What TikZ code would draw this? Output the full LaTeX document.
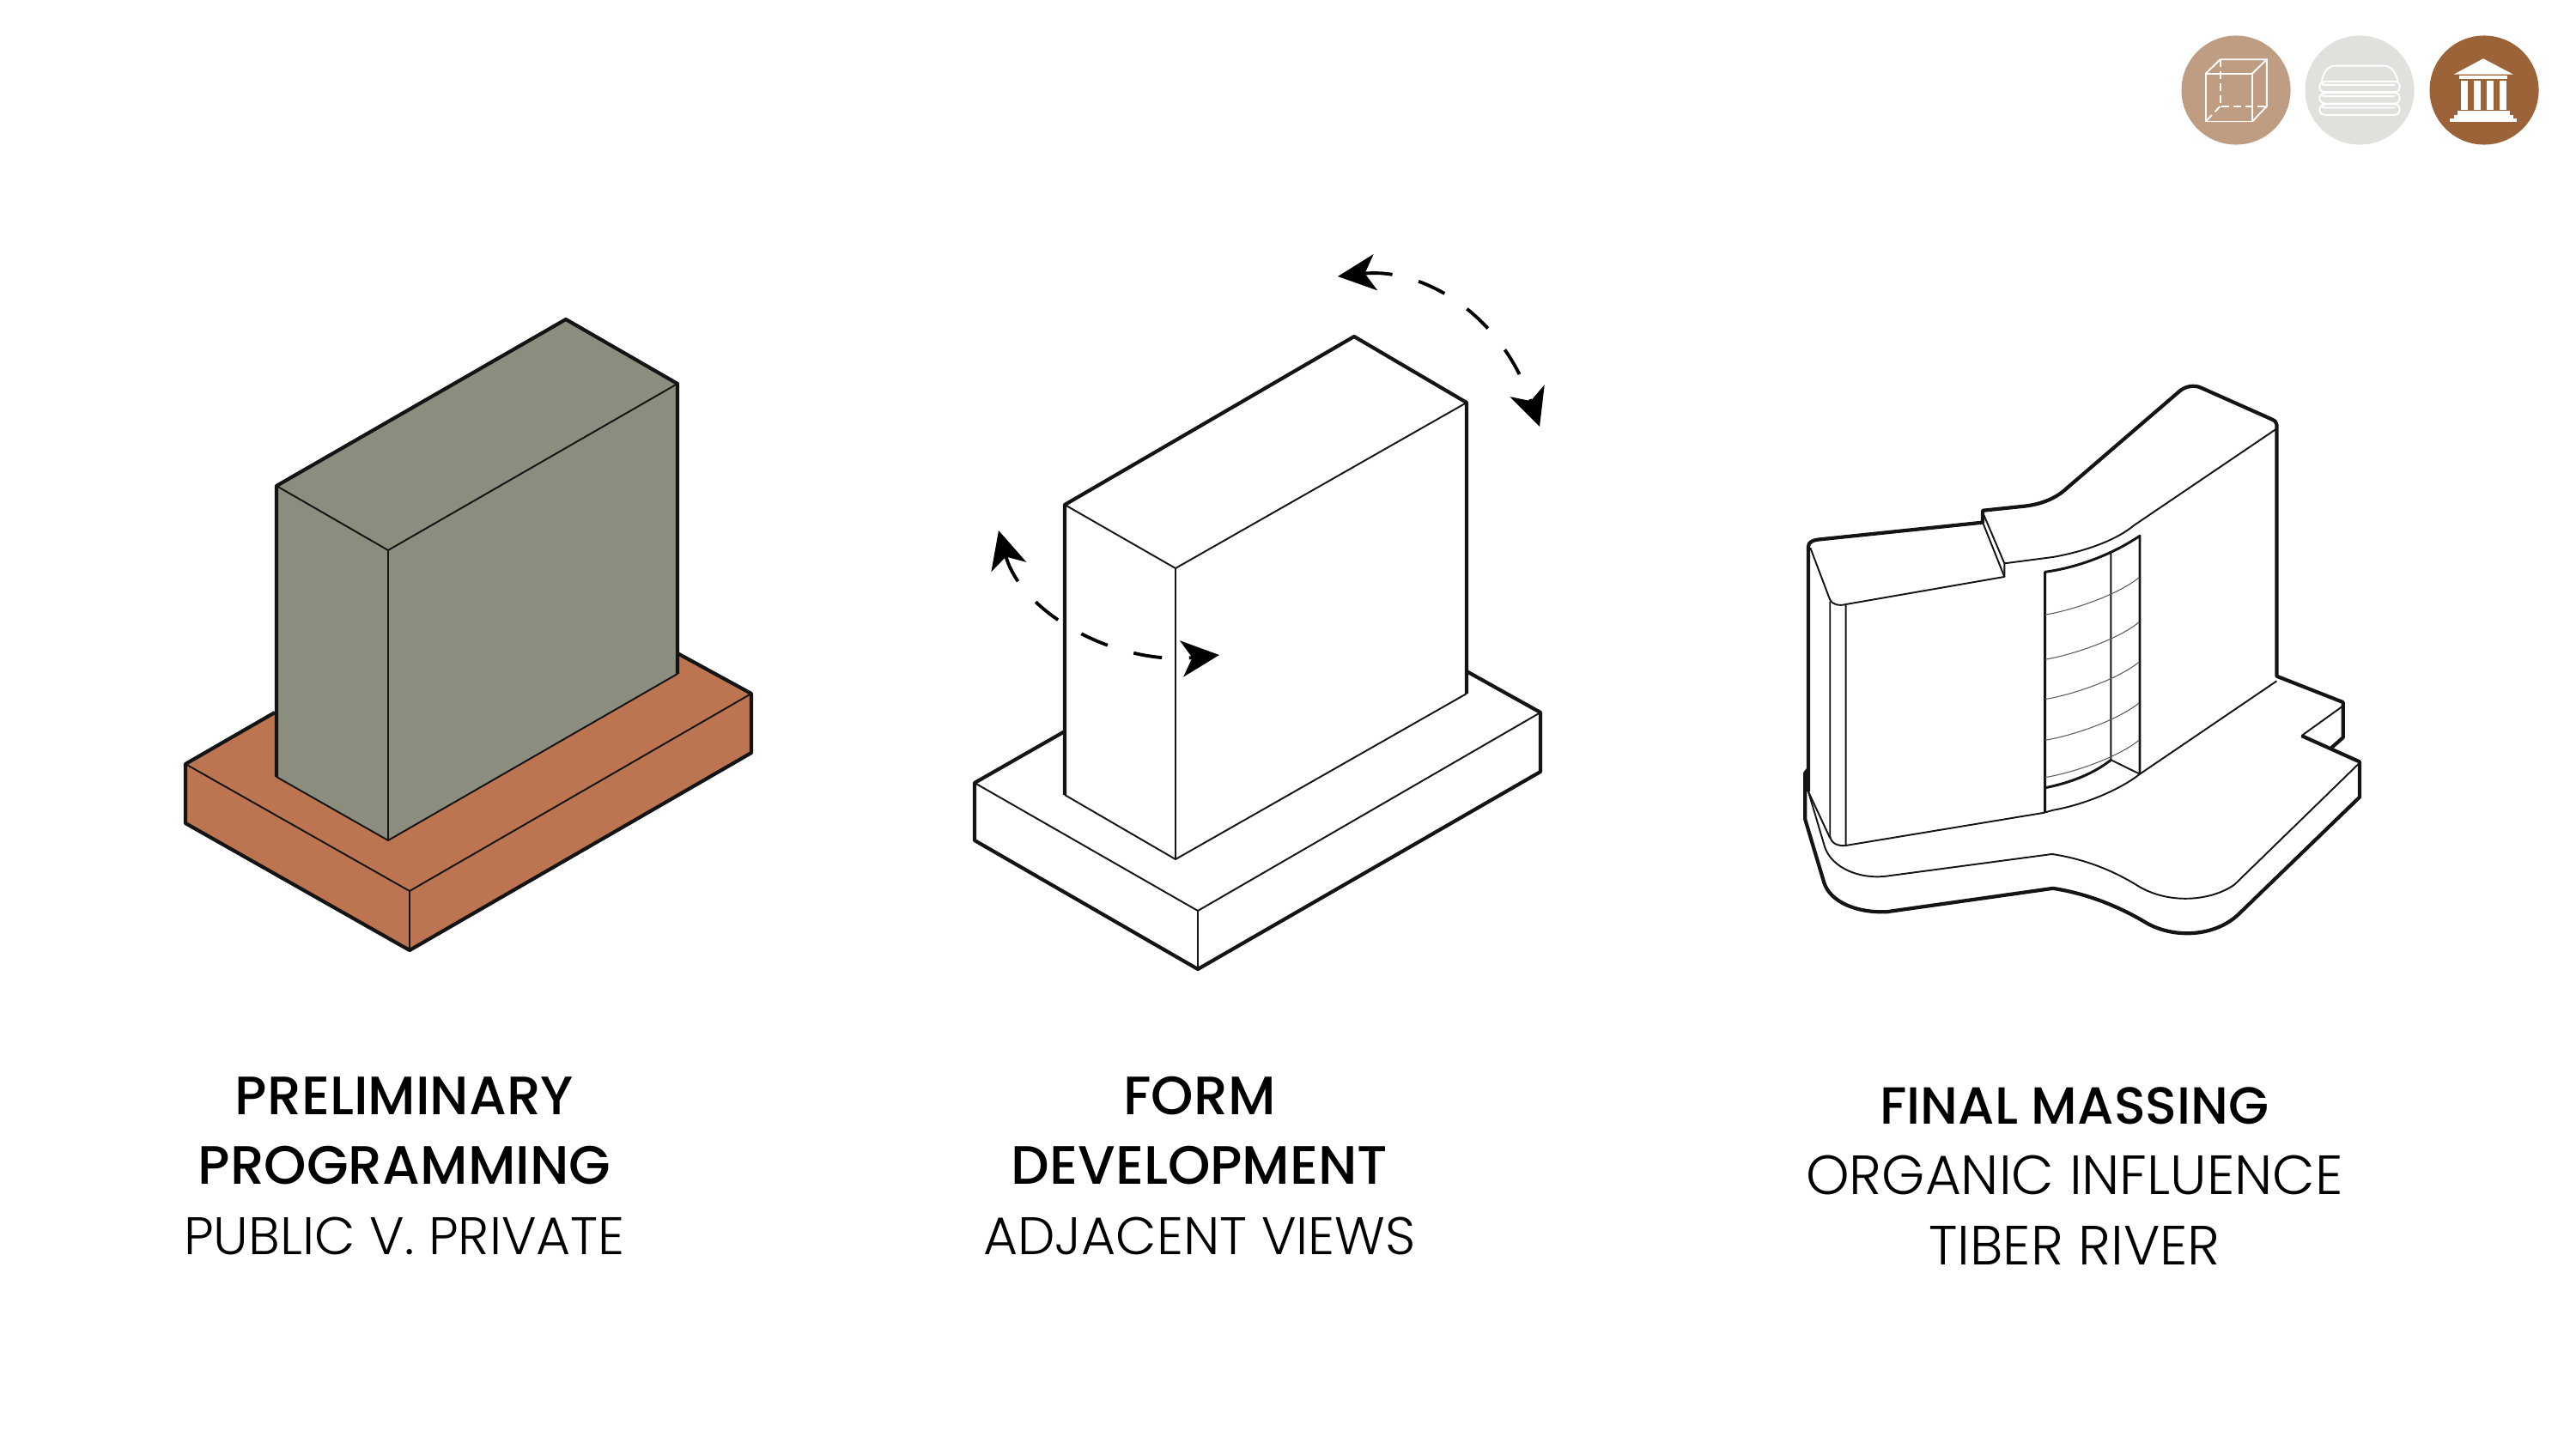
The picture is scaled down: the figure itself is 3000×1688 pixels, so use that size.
\documentclass[tikz,border=0pt]{standalone}
\usepackage{fontspec}
\setmainfont{Poppins}[UprightFont=* Light,BoldFont=* Medium]
\definecolor{MassGray}{HTML}{8B8D7F}
\definecolor{BaseClay}{HTML}{BD7551}
\definecolor{IconTan}{HTML}{BE9D82}
\definecolor{IconMist}{HTML}{E0E1DC}
\definecolor{IconBrown}{HTML}{9C6238}
\definecolor{InkBlack}{HTML}{141414}
\usetikzlibrary{arrows.meta}
\newcommand{\headsize}[1]{\fontsize{#1}{23.2}\selectfont\bfseries}
\newcommand{\subsize}[1]{\fontsize{#1}{23.2}\selectfont\mdseries}
\tikzset{
    % Outer edges of the massing
    thickedge/.style={
        draw=InkBlack,
        line width=1.2pt,
        line join=round
    },
    % Inner edges of the massing
    thinedge/.style={
        draw=InkBlack,
        line width=0.55pt,
        line join=round
    },
    % Window frame
    windowedge/.style={
        draw=InkBlack,
        line width=0.85pt,
        line join=round
    },
    % Window floor lines
    floorline/.style={
        draw=InkBlack!70,
        line width=0.3pt
    },
    % Dashed turning arrows
    turnarrow/.style={
        {Stealth[length=12.5pt,width=12pt,inset=3.5pt]}-{Stealth[length=12.5pt,width=12pt,inset=3.5pt]},
        line width=1.1pt,
        draw=black,
        dash pattern=on 9.5pt off 9pt
    },
    % Round icons top right
    iconcircle/.style={
        circle,
        minimum size=1.27cm,
        inner sep=0pt
    },
    % White icon lines
    iconline/.style={
        draw=white,
        line width=0.55pt
    },
    % Caption under each massing
    caption/.style={
        align=center,
        font=\fontsize{17.5}{23.2}\selectfont,
        text=black,
        inner sep=0pt
    }
}
\begin{document}
\begin{tikzpicture}[x=0.01cm,y=-0.01cm]
    \useasboundingbox (0,0) rectangle (3000,1688);

    % Preliminary programming
    \fill[BaseClay] (216,890) -- (320,830) -- (789,761) -- (875,808) -- (875,877) -- (477,1107) -- (216,959) -- cycle;
    \draw[thickedge] (320,830) -- (216,890) -- (216,959) -- (477,1107) -- (875,877) -- (875,808) -- (789,761);
    \draw[thinedge] (216,890) -- (477,1038) -- (875,808);
    \draw[thinedge] (477,1038) -- (477,1107);
    \fill[MassGray] (322,566) -- (659,372) -- (789,447) -- (789,785) -- (452,979) -- (322,905) -- cycle;
    \draw[thickedge] (322,905) -- (322,566) -- (659,372) -- (789,447) -- (789,785);
    \draw[thinedge] (322,905) -- (452,979) -- (789,785);
    \draw[thinedge] (322,566) -- (452,641) -- (789,447);
    \draw[thinedge] (452,641) -- (452,979);

    % Form development
    \draw[thickedge] (1240,852) -- (1135,912) -- (1135,979) -- (1395,1129) -- (1794,899) -- (1794,830) -- (1708,782);
    \draw[thinedge] (1135,912) -- (1395,1061) -- (1794,830);
    \draw[thinedge] (1395,1061) -- (1395,1129);
    \draw[thickedge] (1240,926) -- (1240,588) -- (1577,392) -- (1708,469) -- (1708,808);
    \draw[thinedge] (1240,926) -- (1369,1001) -- (1708,808);
    \draw[thinedge] (1240,588) -- (1369,662) -- (1708,469);
    \draw[thinedge] (1369,662) -- (1369,1001);

    % Turning arrows
    \coordinate (topstart) at (1558,322);
    \coordinate (topend) at (1793,497);
    \coordinate (sidestart) at (1163,618);
    \coordinate (sideend) at (1420,763);
    \draw[turnarrow] (topstart) .. controls (1650,312) and (1745,358) .. (topend);
    \draw[turnarrow] (sidestart) .. controls (1190,715) and (1300,775) .. (sideend);

    % Final massing
    \begin{scope}[shift={(2060,430)},x=0.00459cm,y=-0.00433cm]
        % outer outline
        \draw[thickedge] (100,1135) -- (100,478) .. controls (100,465) and (110,460) .. (125,458) -- (542,412) -- (542,380) -- (650,368)
            .. controls (695,362) and (730,345) .. (755,320) -- (1040,60) .. controls (1055,45) and (1080,42) .. (1095,50)
            -- (1275,135) .. controls (1283,139) and (1287,143) .. (1287,150) -- (1287,825) -- (1455,895) -- (1455,990) -- (1425,1018);
        \draw[thickedge] (1350,985) -- (1497,1055) -- (1497,1150) -- (1190,1465)
            .. controls (1130,1525) and (1030,1530) .. (960,1490) .. controls (890,1445) and (810,1410) .. (720,1395)
            -- (300,1458) .. controls (220,1462) and (155,1430) .. (140,1380) -- (92,1210) -- (92,1085) -- (100,1075);
        % roof edge
        \draw[thinedge] (105,480) -- (155,620) .. controls (160,632) and (178,637) .. (195,632) -- (597,558) -- (597,522) -- (542,385);
        \draw[thinedge] (542,412) -- (597,558);
        \draw[thinedge] (597,522) -- (720,505) .. controls (800,490) and (880,460) .. (925,420) -- (1287,160);
        % corner
        \draw[thinedge] (155,625) -- (155,1255) .. controls (158,1275) and (175,1282) .. (195,1280) -- (195,632);
        \draw[thinedge] (100,1135) -- (155,1260);
        \draw[thinedge] (195,1280) -- (697,1192) -- (720,1185) .. controls (800,1170) and (890,1130) .. (940,1088) -- (1287,838);
        % window
        \draw[windowedge] (700,1190) -- (700,545) .. controls (770,535) and (860,505) .. (940,448) -- (940,1088);
        \draw[thinedge] (867,490) -- (867,1050) -- (940,1088);
        \draw[windowedge] (700,1125) .. controls (770,1110) and (825,1085) .. (867,1050);
        \foreach \yfloor in {660,780,887,997,1097}{
            \draw[floorline] (700,\yfloor) .. controls (760,\yfloor-10) and (880,\yfloor-50) .. (938,\yfloor-100);
        }
        % terrace edge
        \draw[thinedge] (100,1135) -- (142,1285) .. controls (160,1340) and (230,1372) .. (300,1362) -- (718,1303)
            .. controls (790,1315) and (860,1340) .. (930,1385) .. controls (1010,1440) and (1120,1430) .. (1180,1385) -- (1497,1058);
        \draw[thinedge] (1455,905) -- (1350,985);
    \end{scope}

    % Icons
    \node[iconcircle,fill=IconTan] (cubeicon) at (2604,105) {};
    \node[iconcircle,fill=IconMist] (stackicon) at (2748,105) {};
    \node[iconcircle,fill=IconBrown] (templeicon) at (2893,105) {};
    \begin{scope}[shift={(2500,20)},x=0.00333cm,y=-0.00333cm]
        % cube
        \draw[iconline] (207,197) rectangle (370,365);
        \draw[iconline] (207,197) -- (257,148) -- (420,148) -- (420,312) -- (370,365);
        \draw[iconline] (370,197) -- (420,148);
        \draw[iconline,dash pattern=on 2.5pt off 1.5pt] (257,148) -- (257,312) -- (420,312);
        \draw[iconline,dash pattern=on 2.5pt off 1.5pt] (257,312) -- (207,365);
        % stack
        \draw[iconline] (612,225) .. controls (620,190) and (635,170) .. (660,170) -- (830,170) .. controls (855,170) and (870,190) .. (880,225);
        \foreach \ystack in {225,265,305}{
            \draw[iconline] (868,\ystack+12) -- (625,\ystack+12) .. controls (610,\ystack+12) and (610,\ystack+3) .. (625,\ystack) -- (868,\ystack) .. controls (892,\ystack) and (892,\ystack+37) .. (868,\ystack+37) -- (625,\ystack+37) .. controls (598,\ystack+37) and (598,\ystack) .. (625,\ystack);
        }
        % temple
        \fill[white] (1075,200) -- (1178,145) -- (1282,200) -- cycle;
        \fill[white] (1095,205) rectangle (1262,216);
        \foreach \xcol in {1100,1146,1190,1234}{
            \fill[white] (\xcol,221) rectangle (\xcol+24,325);
        }
        \fill[white] (1088,328) rectangle (1270,342);
        \fill[white] (1075,342) rectangle (1282,355);
        \fill[white] (1062,355) rectangle (1296,368);
    \end{scope}

    % Captions
    \node[caption] (prelim) at (471,1358) {\headsize{17.9}PRELIMINARY\\\headsize{17.9}PROGRAMMING\\\subsize{17.5}PUBLIC V. PRIVATE};
    \node[caption] (form) at (1397,1358) {\headsize{17.9}FORM\\\headsize{17.9}DEVELOPMENT\\\subsize{17.5}ADJACENT VIEWS};
    \node[caption] (final) at (2416,1370) {\headsize{17.3}FINAL MASSING\\\subsize{18.3}ORGANIC INFLUENCE\\\subsize{18.3}TIBER RIVER};
\end{tikzpicture}
\end{document}
